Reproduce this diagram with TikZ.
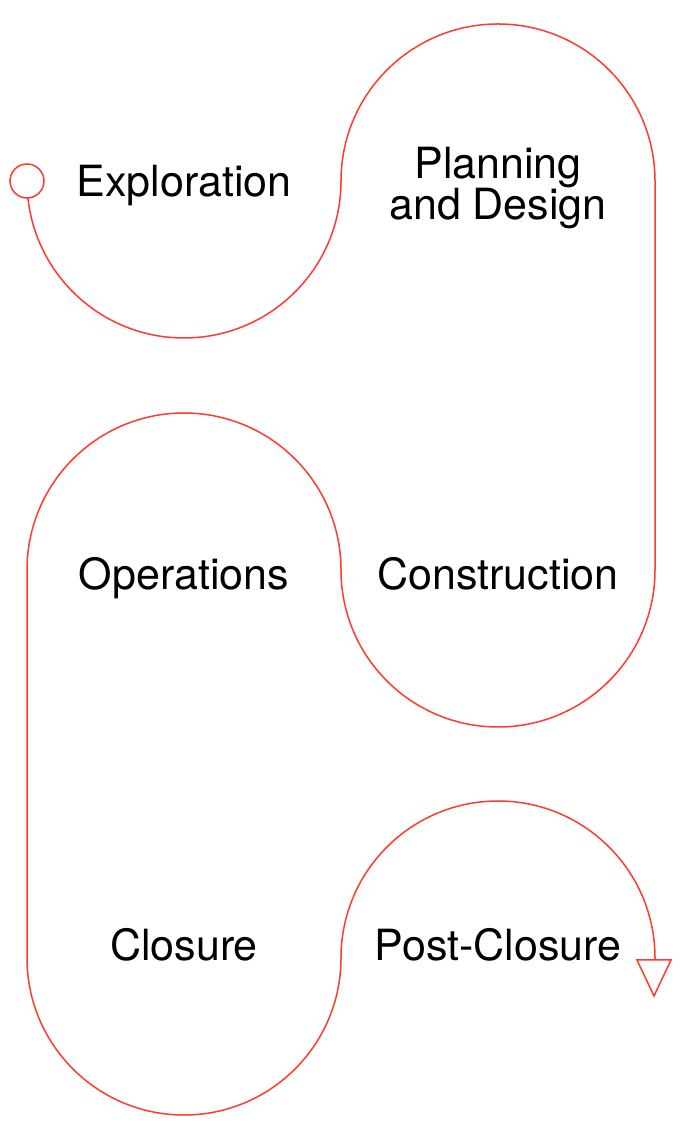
\documentclass[tikz,border=0pt]{standalone}
\usepackage{fontspec}
\setmainfont{TeX Gyre Heros}
\usepackage{tikz}
\definecolor{trail}{HTML}{FF3B30}
\tikzset{
  stage/.style={font=\fontsize{43}{35}\selectfont, align=center, inner sep=0pt},
  trail/.style={draw=trail, line width=1.5pt}
}

\begin{document}
\begin{tikzpicture}[x=1pt,y=1pt]
\useasboundingbox (0,0) rectangle (680,1140);

% the winding trail
\coordinate (s) at (27,959);
\coordinate (e) at (655,180);
\draw [trail] (s) arc (180:360:157) arc (180:0:157) -- (655,570)
  arc (0:-180:157) arc (0:180:157) -- (27,182)
  arc (180:360:157) arc (180:0:157) -- (e);

% start and end marks
\node [trail, circle, fill=white, minimum size=34pt, inner sep=0pt] (start) at (s) {};
\draw [trail, fill=white] (637,180) -- (671,180) -- (654,144) -- cycle;

\node [stage, anchor=base] (explore) at (184,943) {Exploration};
\node [stage] (plan) at (498,952) {Planning\\and Design};
\node [stage, anchor=base] (ops) at (184,550) {Operations};
\node [stage, anchor=base] (construct) at (498,550) {Construction};
\node [stage, anchor=base] (closure) at (184,179) {Closure};
\node [stage, anchor=base] (post) at (498,179) {Post-Closure};
\end{tikzpicture}
\end{document}
